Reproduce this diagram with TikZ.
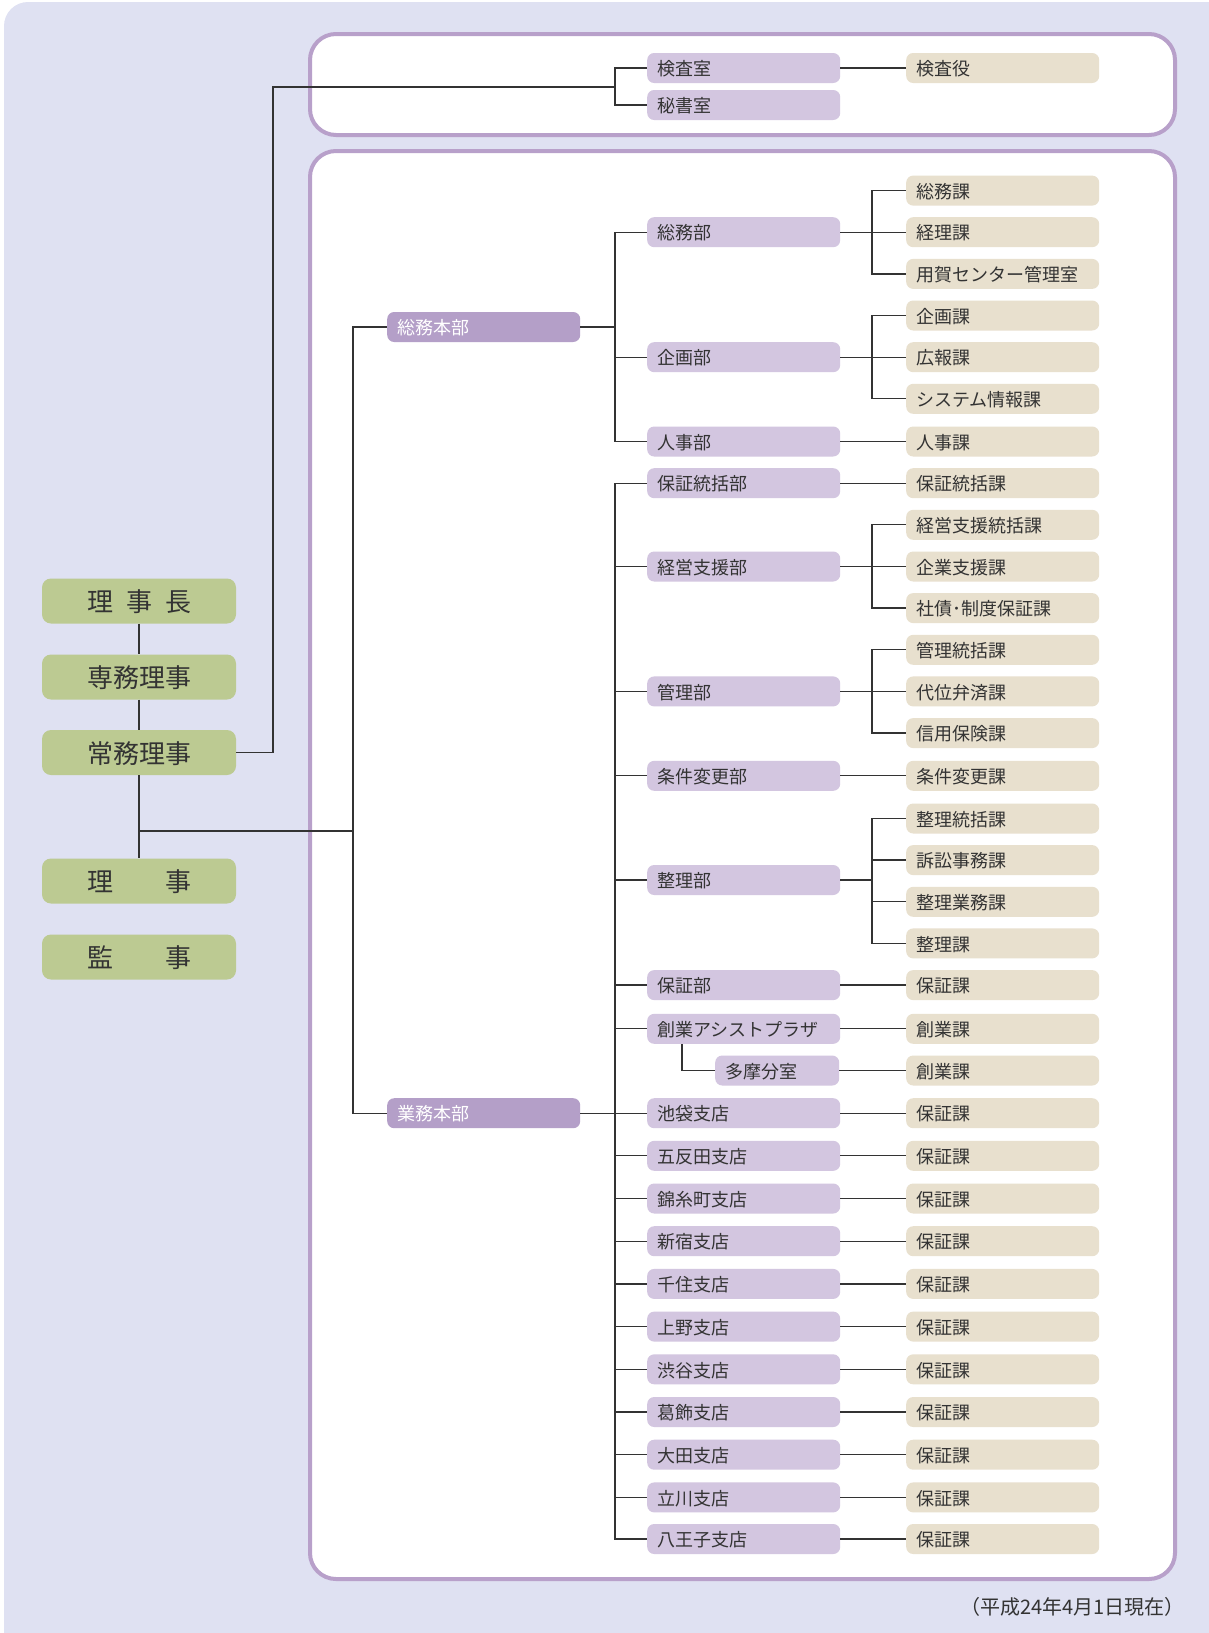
\documentclass[tikz,border=0pt]{standalone}
\usepackage{fontspec}
\newfontfamily\jpfont{Noto Sans CJK JP}
\definecolor{bgC}{HTML}{DFE1F2}
\definecolor{frameC}{HTML}{B8A0CA}
\definecolor{buC}{HTML}{D3C6E0}
\definecolor{honbuC}{HTML}{B49FC8}
\definecolor{kaC}{HTML}{E8E0CE}
\definecolor{yakuinC}{HTML}{BCCA92}
\definecolor{txtC}{HTML}{333333}
\definecolor{lineC}{HTML}{333333}
\tikzset{
  base/.style={rectangle,anchor=west,inner xsep=10pt,inner ysep=0pt,minimum height=30pt,text width=173pt,align=left,rounded corners=7pt,text=txtC,font=\jpfont\fontsize{18pt}{18pt}\selectfont,text height=17pt,text depth=1.5pt},
  bu/.style={base,fill=buC},
  ka/.style={base,fill=kaC},
  honbu/.style={base,fill=honbuC,text=white},
  yakuin/.style={rectangle,rounded corners=9pt,fill=yakuinC,minimum width=194pt,minimum height=45pt,inner sep=0pt,text=txtC,font=\jpfont\fontsize{26pt}{26pt}\selectfont,text height=24pt,text depth=3pt},
  frame/.style={draw=frameC,line width=4pt,fill=white,rounded corners=26pt},
  conn/.style={draw=lineC,line width=1.3pt}
}
\begin{document}
\begin{tikzpicture}[x=1pt,y=-1pt]
\useasboundingbox (0,0) rectangle (1209,1633);
\begin{scope}
\clip (0,0) rectangle (1209,1633);
\fill[bgC,rounded corners=24pt] (4,2) rectangle (1240,1665);
\end{scope}
\draw[frame] (310,34) rectangle (1175,135);
\draw[frame] (310,151) rectangle (1175,1579);

\node[yakuin] (richo) at (139,601) {理\hspace{0.5em}事\hspace{0.5em}長};
\node[yakuin] (senmu) at (139,677) {専務理事};
\node[yakuin] (jomu) at (139,752.5) {常務理事};
\node[yakuin] (riji) at (139,881) {理\hspace{2em}事};
\node[yakuin] (kanji) at (139,957) {監\hspace{2em}事};

\node[honbu] (somuH) at (387,327) {総務本部};
\node[honbu] (gyomuH) at (387,1113.2) {業務本部};

\node[bu] (kensashitsu) at (647,68) {検査室};
\node[bu] (hisho) at (647,105) {秘書室};
\node[ka] (kensayaku) at (906,68) {検査役};

\node[bu] (somu) at (647,232.2) {総務部};
\node[bu] (kikaku) at (647,357.2) {企画部};
\node[bu] (jinji) at (647,441.5) {人事部};
\node[bu] (hoshotokatsu) at (647,483.2) {保証統括部};
\node[bu] (keiei) at (647,566.5) {経営支援部};
\node[bu] (kanri) at (647,691.4) {管理部};
\node[bu] (joken) at (647,775.8) {条件変更部};
\node[bu] (seiri) at (647,880) {整理部};
\node[bu] (hosho) at (647,985.1) {保証部};
\node[bu] (sogyo) at (647,1028.8) {創業アシストプラザ};
\node[bu,text width=104pt] (tama) at (715,1070.5) {多摩分室};
\node[bu] (ikebukuro) at (647,1113.2) {池袋支店};
\node[bu] (gotanda) at (647,1155.8) {五反田支店};
\node[bu] (kinshicho) at (647,1198.5) {錦糸町支店};
\node[bu] (shinjuku) at (647,1241.2) {新宿支店};
\node[bu] (senju) at (647,1283.9) {千住支店};
\node[bu] (ueno) at (647,1326.6) {上野支店};
\node[bu] (shibuya) at (647,1369.3) {渋谷支店};
\node[bu] (katsushika) at (647,1412.0) {葛飾支店};
\node[bu] (ota) at (647,1454.7) {大田支店};
\node[bu] (tachikawa) at (647,1497.4) {立川支店};
\node[bu] (hachioji) at (647,1539.0) {八王子支店};

\node[ka] (somuka) at (906,190.6) {総務課};
\node[ka] (keirika) at (906,232.2) {経理課};
\node[ka] (yogaka) at (906,273.9) {用賀センター管理室};
\node[ka] (kikakuka) at (906,315.5) {企画課};
\node[ka] (kohoka) at (906,357.2) {広報課};
\node[ka] (systemka) at (906,398.8) {システム情報課};
\node[ka] (jinjika) at (906,441.5) {人事課};
\node[ka] (hoshotokatsuka) at (906,483.2) {保証統括課};
\node[ka] (keieitokatsuka) at (906,524.8) {経営支援統括課};
\node[ka] (kigyoka) at (906,566.5) {企業支援課};
\node[ka] (shasaika) at (906,608.1) {社債･制度保証課};
\node[ka] (kanritokatsuka) at (906,649.8) {管理統括課};
\node[ka] (daiika) at (906,691.4) {代位弁済課};
\node[ka] (shinyoka) at (906,733.1) {信用保険課};
\node[ka] (jokenka) at (906,775.8) {条件変更課};
\node[ka] (seiritokatsuka) at (906,818.5) {整理統括課};
\node[ka] (soshoka) at (906,860.1) {訴訟事務課};
\node[ka] (seirigyomuka) at (906,901.8) {整理業務課};
\node[ka] (seirika) at (906,943.4) {整理課};
\node[ka] (hoshoka) at (906,985.1) {保証課};
\node[ka] (sogyoka) at (906,1028.8) {創業課};
\node[ka] (tamaka) at (906,1070.5) {創業課};
\node[ka] (ikebukuroK) at (906,1113.2) {保証課};
\node[ka] (gotandaK) at (906,1155.8) {保証課};
\node[ka] (kinshichoK) at (906,1198.5) {保証課};
\node[ka] (shinjukuK) at (906,1241.2) {保証課};
\node[ka] (senjuK) at (906,1283.9) {保証課};
\node[ka] (uenoK) at (906,1326.6) {保証課};
\node[ka] (shibuyaK) at (906,1369.3) {保証課};
\node[ka] (katsushikaK) at (906,1412.0) {保証課};
\node[ka] (otaK) at (906,1454.7) {保証課};
\node[ka] (tachikawaK) at (906,1497.4) {保証課};
\node[ka] (hachiojiK) at (906,1539.0) {保証課};

\node[anchor=east,text=txtC,font=\jpfont\fontsize{20pt}{20pt}\selectfont] (asof) at (1188,1607) {（平成24年4月1日現在）};

\coordinate (feed) at (273,87);
\coordinate (busT) at (615,87);
\coordinate (busL) at (353,831);
\coordinate (busA) at (615,327);
\coordinate (busB) at (615,1113.2);
\coordinate (subx) at (872,0);

\draw[conn] (richo) -- (senmu);
\draw[conn] (senmu) -- (jomu);
\draw[conn] (jomu) -- (riji);
\draw[conn] (jomu.east) -| (feed) -- (busT);
\draw[conn] (busT) |- (kensashitsu.west) (busT) |- (hisho.west);
\draw[conn] (kensashitsu) -- (kensayaku);
\draw[conn] (jomu.south |- busL) -- (busL);
\draw[conn] (busL) |- (somuH.west) (busL) |- (gyomuH.west);

\draw[conn] (somuH) -- (busA);
\draw[conn] (busA) |- (somu.west) (busA) |- (kikaku.west) (busA) |- (jinji.west);
\draw[conn] (gyomuH) -- (busB);
\draw[conn] (busB) |- (hoshotokatsu.west) (busB) |- (keiei.west) (busB) |- (kanri.west)
  (busB) |- (joken.west) (busB) |- (seiri.west) (busB) |- (hosho.west) (busB) |- (sogyo.west);
\draw[conn] (busB) |- (gotanda.west) (busB) |- (kinshicho.west) (busB) |- (shinjuku.west)
  (busB) |- (senju.west) (busB) |- (ueno.west) (busB) |- (shibuya.west) (busB) |- (katsushika.west)
  (busB) |- (ota.west) (busB) |- (tachikawa.west) (busB) |- (hachioji.west);
\draw[conn] (busB) -- (ikebukuro.west);

\draw[conn] (somu) -- (somu -| subx) (somu -| subx) |- (somuka.west) (somu -| subx) |- (keirika.west) (somu -| subx) |- (yogaka.west);
\draw[conn] (kikaku) -- (kikaku -| subx) (kikaku -| subx) |- (kikakuka.west) (kikaku -| subx) |- (kohoka.west) (kikaku -| subx) |- (systemka.west);
\draw[conn] (keiei) -- (keiei -| subx) (keiei -| subx) |- (keieitokatsuka.west) (keiei -| subx) |- (kigyoka.west) (keiei -| subx) |- (shasaika.west);
\draw[conn] (kanri) -- (kanri -| subx) (kanri -| subx) |- (kanritokatsuka.west) (kanri -| subx) |- (daiika.west) (kanri -| subx) |- (shinyoka.west);
\draw[conn] (seiri) -- (seiri -| subx) (seiri -| subx) |- (seiritokatsuka.west) (seiri -| subx) |- (soshoka.west) (seiri -| subx) |- (seirigyomuka.west) (seiri -| subx) |- (seirika.west);

\draw[conn] (jinji) -- (jinjika);
\draw[conn] (hoshotokatsu) -- (hoshotokatsuka);
\draw[conn] (joken) -- (jokenka);
\draw[conn] (hosho) -- (hoshoka);
\draw[conn] (sogyo) -- (sogyoka);
\draw[conn] ([xshift=35pt]sogyo.south west) |- (tama.west);
\draw[conn] (tama) -- (tamaka);
\draw[conn] (ikebukuro) -- (ikebukuroK);
\draw[conn] (gotanda) -- (gotandaK);
\draw[conn] (kinshicho) -- (kinshichoK);
\draw[conn] (shinjuku) -- (shinjukuK);
\draw[conn] (senju) -- (senjuK);
\draw[conn] (ueno) -- (uenoK);
\draw[conn] (shibuya) -- (shibuyaK);
\draw[conn] (katsushika) -- (katsushikaK);
\draw[conn] (ota) -- (otaK);
\draw[conn] (tachikawa) -- (tachikawaK);
\draw[conn] (hachioji) -- (hachiojiK);
\end{tikzpicture}
\end{document}
